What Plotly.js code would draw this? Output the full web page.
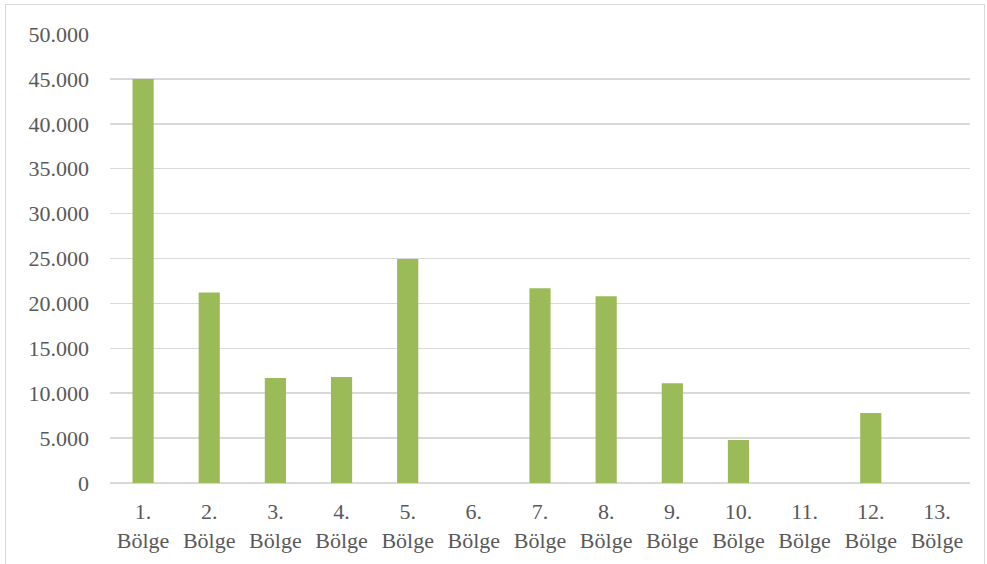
<!DOCTYPE html>
<html>
<head>
<meta charset="utf-8">
<script src="https://cdn.plot.ly/plotly-3.0.1.min.js"></script>
<style>
html,body{margin:0;padding:0;background:#fff;}
#wrap{position:relative;width:987px;height:564px;}
#chart{position:absolute;left:0;top:0;width:987px;height:564px;}
#frame{position:absolute;left:5px;top:4px;width:978px;height:575px;border:1px solid #d9d9d9;pointer-events:none;}
</style>
</head>
<body>
<div id="wrap"><div id="chart"></div><div id="frame"></div></div>
<script>
const categories = ["1.<br>Bölge","2.<br>Bölge","3.<br>Bölge","4.<br>Bölge","5.<br>Bölge","6.<br>Bölge","7.<br>Bölge","8.<br>Bölge","9.<br>Bölge","10.<br>Bölge","11.<br>Bölge","12.<br>Bölge","13.<br>Bölge"];
const values = [45000, 21200, 11700, 11800, 24950, 0, 21700, 20800, 11100, 4800, 0, 7800, 0];
const yTicks = [0, 5000, 10000, 15000, 20000, 25000, 30000, 35000, 40000, 45000, 50000];

const font = {family: "Liberation Serif", size: 22, color: "#595959"};

Plotly.newPlot("chart", [{
  type: "bar",
  x: categories,
  y: values,
  marker: {color: "#9bbb59"},
  hoverinfo: "x+y"
}], {
  width: 987, height: 564,
  margin: {l: 110, r: 17, t: 34, b: 81},
  paper_bgcolor: "#fff", plot_bgcolor: "#fff",
  separators: ",.",
  bargap: 0.68,
  font: font,
  showlegend: false,
  xaxis: {type: "category", showgrid: false, showline: false, zeroline: false, ticks: "", ticklabelstandoff: 13, tickfont: font, automargin: false},
  yaxis: {range: [0, 50000], tickvals: yTicks, tickformat: ",d", showgrid: true, gridcolor: "#d9d9d9", gridwidth: 1.5, zeroline: true, zerolinecolor: "#d9d9d9", zerolinewidth: 1.5, showline: false, ticks: "", ticklabelstandoff: 20, tickfont: font, automargin: false}
}, {displayModeBar: false, staticPlot: true});
</script>
</body>
</html>
